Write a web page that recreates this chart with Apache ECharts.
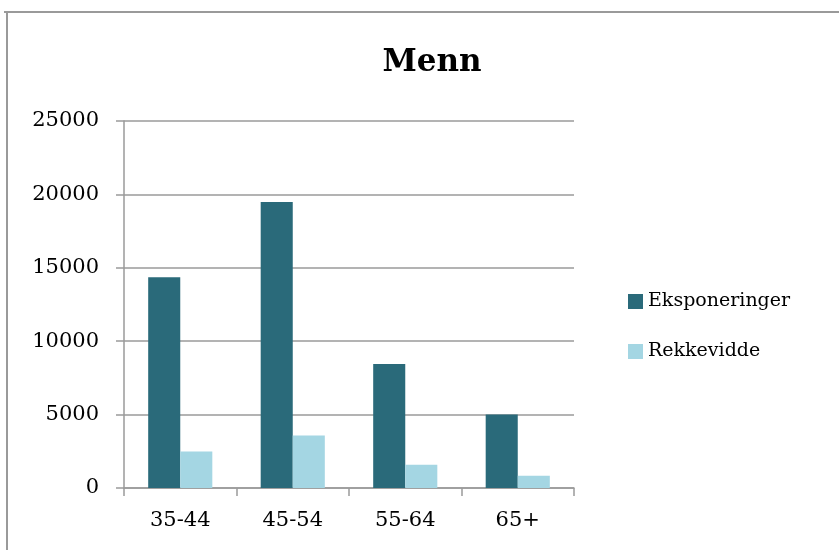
<!DOCTYPE html>
<html>
<head>
<meta charset="utf-8">
<script src="https://cdn.jsdelivr.net/npm/echarts@6/dist/echarts.min.js"></script>
<style>
  html, body { margin: 0; padding: 0; background: #fff; }
  #chart { width: 839px; height: 550px; }
</style>
</head>
<body>
<div id="chart"></div>
<script>
// Age groups and series values
const ageGroups = ['35-44', '45-54', '55-64', '65+'];
const eksponeringer = [14350, 19480, 8450, 5000];
const rekkevidde = [2490, 3580, 1590, 840];
const seriesNames = ['Eksponeringer', 'Rekkevidde'];
const chartTitle = 'Menn';

const FONT = 'DejaVu Serif';
const GRID_COLOR = '#9a9a9a';

const chart = echarts.init(document.getElementById('chart'));
chart.setOption({
  animation: false,
  backgroundColor: '#fff',
  title: {
    text: chartTitle,
    left: 427,
    top: 42,
    textAlign: 'center',
    textStyle: { fontFamily: FONT, fontWeight: 'bold', fontSize: 31, color: '#000' }
  },
  graphic: [
    { type: 'line', shape: { x1: 4, y1: 12, x2: 839, y2: 12 }, style: { stroke: GRID_COLOR, lineWidth: 2 } },
    { type: 'line', shape: { x1: 7, y1: 12, x2: 7, y2: 550 }, style: { stroke: GRID_COLOR, lineWidth: 2 } }
  ],
  legend: {
    orient: 'vertical',
    left: 623,
    top: 287,
    itemWidth: 15,
    itemHeight: 15,
    itemGap: 31,
    icon: 'rect',
    data: seriesNames,
    textStyle: { fontFamily: FONT, fontSize: 19, color: '#000' }
  },
  grid: { left: 124, right: 265, top: 121, bottom: 62, containLabel: false },
  xAxis: {
    type: 'category',
    data: ageGroups,
    axisLine: { lineStyle: { color: GRID_COLOR, width: 1.5 } },
    axisTick: { show: true, length: 8, inside: false, alignWithLabel: false, lineStyle: { color: GRID_COLOR, width: 1.5 } },
    axisLabel: { fontFamily: FONT, fontSize: 21, color: '#000', margin: 22 }
  },
  yAxis: {
    type: 'value',
    min: 0,
    max: 25000,
    interval: 5000,
    axisLine: { show: true, lineStyle: { color: GRID_COLOR, width: 1.5 } },
    axisTick: { show: true, length: 8, lineStyle: { color: GRID_COLOR, width: 1.5 } },
    axisLabel: { fontFamily: FONT, fontSize: 21, color: '#000', margin: 25, formatter: v => String(v) },
    splitLine: { show: true, lineStyle: { color: GRID_COLOR, width: 1.5 } }
  },
  series: [
    {
      name: seriesNames[0],
      type: 'bar',
      data: eksponeringer,
      itemStyle: { color: '#2a6a7a' },
      barGap: '0%',
      barCategoryGap: '43%'
    },
    {
      name: seriesNames[1],
      type: 'bar',
      data: rekkevidde,
      itemStyle: { color: '#a4d6e3' },
      barGap: '0%',
      barCategoryGap: '43%'
    }
  ]
});
</script>
</body>
</html>
